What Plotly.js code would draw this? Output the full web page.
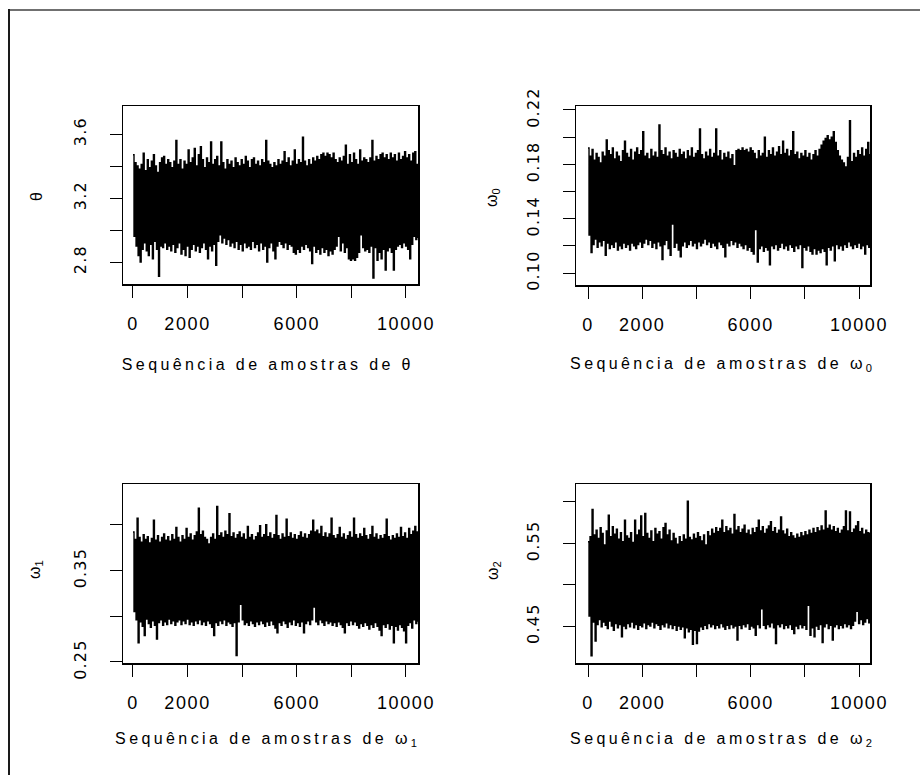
<!DOCTYPE html>
<html><head><meta charset="utf-8">
<script src="https://cdn.plot.ly/plotly-3.0.1.min.js"></script>
<style>
html,body{margin:0;padding:0;background:#fff}
#chart{width:920px;height:775px}
.xaxislayer-above text{letter-spacing:1.6px}
.yaxislayer-above text{letter-spacing:1.2px}
.annotation[data-index="1"] text,.annotation[data-index="3"] text,
.annotation[data-index="5"] text,.annotation[data-index="7"] text{letter-spacing:3.4px}
</style></head><body><div id="chart"></div>
<script>
// MCMC samples (thinned): alternating column maxima / minima
const theta = [
3.47,2.96, 3.42,2.90, 3.40,2.84, 3.38,2.80, 3.41,2.88, 3.48,2.92, 3.37,2.87, 3.44,2.84, 3.39,2.91, 3.43,2.82,
3.47,2.93, 3.40,2.88, 3.36,2.71, 3.42,2.90, 3.45,2.89, 3.46,2.92, 3.41,2.88, 3.44,2.90, 3.42,2.87, 3.39,2.91,
3.43,2.86, 3.56,2.89, 3.41,2.92, 3.44,2.85, 3.38,2.88, 3.43,2.84, 3.41,2.90, 3.50,2.83, 3.42,2.88, 3.45,2.91,
3.51,2.87, 3.40,2.90, 3.47,2.86, 3.52,2.89, 3.44,2.92, 3.39,2.88, 3.45,2.82, 3.42,2.90, 3.55,2.87, 3.41,2.91,
3.44,2.78, 3.46,2.93, 3.40,2.97, 3.55,2.92, 3.42,2.95, 3.38,2.91, 3.44,2.94, 3.41,2.90, 3.43,2.92, 3.39,2.89,
3.45,2.93, 3.42,2.88, 3.40,2.91, 3.44,2.87, 3.41,2.92, 3.46,2.89, 3.43,2.90, 3.39,2.88, 3.44,2.93, 3.45,2.89,
3.41,2.91, 3.43,2.87, 3.40,2.92, 3.44,2.88, 3.42,2.90, 3.56,2.80, 3.43,2.89, 3.41,2.92, 3.39,2.87, 3.42,2.82,
3.40,2.90, 3.44,2.93, 3.41,2.91, 3.43,2.89, 3.49,2.92, 3.42,2.88, 3.45,2.91, 3.40,2.90, 3.43,2.86, 3.50,2.85,
3.41,2.88, 3.44,2.86, 3.42,2.90, 3.58,2.88, 3.43,2.91, 3.40,2.89, 3.44,2.87, 3.41,2.79, 3.45,2.90, 3.43,2.86,
3.46,2.88, 3.44,2.85, 3.47,2.89, 3.48,2.86, 3.46,2.88, 3.48,2.84, 3.47,2.87, 3.45,2.85, 3.48,2.88, 3.44,2.90,
3.42,2.96, 3.45,2.87, 3.43,2.92, 3.46,2.86, 3.53,2.89, 3.41,2.82, 3.47,2.81, 3.42,2.82, 3.48,2.81, 3.44,2.83,
3.41,2.86, 3.50,2.97, 3.43,2.89, 3.45,2.87, 3.44,2.88, 3.42,2.86, 3.45,2.90, 3.56,2.70, 3.43,2.89, 3.46,2.81,
3.44,2.86, 3.47,2.82, 3.48,2.88, 3.45,2.75, 3.47,2.87, 3.44,2.89, 3.48,2.86, 3.45,2.75, 3.47,2.88, 3.43,2.90,
3.48,2.91, 3.44,2.89, 3.46,2.92, 3.49,2.90, 3.45,2.88, 3.47,2.82, 3.43,2.91, 3.48,2.96, 3.49,2.94, 3.41,2.95
];
const omega0 = [
.192,.128, .186,.115, .191,.121, .183,.125, .188,.119, .185,.123, .181,.120, .189,.124, .186,.113, .198,.122,
.190,.118, .187,.121, .192,.119, .184,.123, .189,.117, .186,.120, .182,.118, .190,.122, .197,.119, .188,.121,
.185,.117, .191,.122, .183,.120, .189,.118, .192,.121, .187,.123, .190,.119, .204,.122, .186,.125, .188,.121,
.184,.124, .191,.119, .186,.122, .189,.118, .185,.123, .209,.120, .190,.110, .187,.121, .192,.124, .186,.118,
.189,.113, .184,.136, .190,.119, .188,.122, .185,.117, .191,.112, .187,.120, .189,.123, .184,.119, .190,.121,
.186,.124, .192,.120, .185,.122, .188,.118, .190,.123, .206,.120, .187,.122, .184,.125, .189,.121, .186,.123,
.191,.119, .185,.122, .188,.120, .206,.118, .186,.123, .190,.121, .183,.119, .188,.112, .185,.122, .189,.120,
.184,.124, .187,.121, .179,.123, .190,.119, .191,.122, .190,.120, .192,.118, .190,.121, .191,.117, .189,.119,
.192,.116, .190,.114, .188,.132, .184,.108, .190,.118, .186,.120, .188,.116, .200,.119, .185,.117, .190,.106,
.187,.120, .192,.118, .186,.121, .189,.117, .193,.119, .187,.122, .197,.118, .188,.120, .191,.117, .186,.121,
.190,.119, .204,.116, .187,.120, .189,.118, .184,.121, .188,.104, .186,.119, .190,.117, .185,.120, .188,.116,
.183,.114, .187,.118, .190,.114, .186,.117, .191,.115, .194,.118, .197,.116, .199,.106, .201,.119, .198,.117,
.200,.120, .204,.109, .196,.121, .190,.118, .186,.120, .183,.117, .181,.121, .178,.119, .185,.123, .212,.120,
.182,.118, .188,.121, .185,.119, .190,.122, .187,.118, .192,.120, .186,.114, .191,.121, .196,.119, .187,.126
];
const omega1 = [
.392,.305, .384,.296, .407,.271, .386,.294, .381,.289, .389,.279, .384,.297, .387,.292, .380,.288, .385,.295,
.405,.290, .383,.275, .388,.293, .381,.296, .386,.290, .390,.294, .383,.291, .387,.297, .382,.292, .389,.295,
.384,.290, .397,.294, .386,.296, .381,.291, .388,.295, .384,.292, .396,.297, .386,.291, .390,.294, .383,.290,
.388,.295, .392,.292, .418,.296, .389,.291, .393,.294, .386,.290, .384,.295, .379,.292, .386,.288, .390,.279,
.384,.293, .420,.290, .388,.295, .391,.292, .386,.296, .393,.290, .389,.294, .412,.292, .387,.289, .391,.293,
.385,.257, .389,.294, .392,.313, .386,.296, .390,.291, .384,.293, .398,.290, .386,.295, .389,.292, .383,.289,
.387,.294, .391,.291, .399,.295, .386,.292, .389,.289, .400,.294, .387,.290, .391,.295, .385,.291, .389,.287,
.410,.282, .388,.293, .384,.290, .390,.295, .386,.292, .406,.288, .387,.294, .391,.291, .385,.296, .389,.290,
.384,.293, .388,.289, .392,.294, .386,.282, .390,.292, .385,.295, .389,.291, .393,.296, .405,.310, .392,.294,
.394,.291, .390,.296, .398,.293, .387,.290, .391,.295, .386,.292, .390,.294, .407,.290, .388,.293, .385,.289,
.389,.294, .397,.291, .386,.288, .390,.282, .384,.293, .388,.290, .392,.295, .386,.291, .407,.294, .389,.290,
.385,.287, .390,.292, .387,.289, .396,.293, .388,.290, .384,.286, .389,.291, .398,.288, .386,.293, .390,.289,
.384,.285, .388,.279, .385,.291, .389,.288, .406,.292, .387,.286, .383,.290, .388,.271, .385,.289, .390,.285,
.386,.291, .397,.288, .387,.284, .391,.271, .385,.290, .396,.293, .389,.287, .393,.296, .398,.292, .392,.294
];
const omega2 = [
.552,.462, .558,.414, .591,.455, .560,.432, .566,.452, .556,.458, .569,.449, .562,.455, .548,.451, .565,.447,
.584,.456, .558,.450, .570,.445, .561,.453, .567,.448, .555,.452, .563,.437, .552,.450, .578,.447, .559,.453,
.556,.449, .563,.455, .551,.448, .578,.452, .560,.446, .566,.451, .583,.449, .558,.454, .586,.447, .562,.452,
.556,.450, .565,.455, .552,.448, .568,.453, .561,.451, .564,.446, .555,.452, .569,.449, .574,.454, .560,.448,
.566,.452, .553,.447, .562,.451, .556,.445, .549,.450, .558,.446, .552,.449, .560,.436, .555,.448, .601,.443,
.557,.446, .554,.428, .561,.445, .556,.429, .563,.444, .558,.449, .553,.446, .560,.451, .548,.447, .564,.453,
.559,.449, .567,.452, .562,.447, .569,.451, .564,.448, .568,.453, .578,.449, .563,.446, .570,.451, .565,.447,
.568,.452, .561,.448, .585,.450, .566,.433, .570,.451, .563,.447, .567,.452, .572,.449, .562,.453, .566,.446,
.560,.450, .568,.448, .563,.439, .569,.452, .578,.448, .565,.471, .570,.451, .562,.447, .567,.452, .571,.449,
.576,.454, .564,.448, .569,.429, .562,.452, .566,.449, .582,.453, .565,.447, .561,.451, .567,.448, .558,.452,
.563,.446, .559,.441, .556,.450, .561,.447, .557,.452, .563,.448, .559,.451, .564,.446, .560,.475, .566,.439,
.562,.448, .568,.437, .563,.450, .569,.446, .565,.452, .571,.430, .566,.449, .589,.453, .568,.447, .572,.451,
.566,.433, .570,.449, .564,.452, .568,.447, .562,.451, .566,.448, .570,.453, .589,.449, .565,.452, .588,.447,
.563,.451, .567,.456, .571,.468, .576,.453, .564,.458, .568,.452, .561,.455, .566,.459, .563,.454, .562,.457
];
const iterStep = 37.4; // iterations represented by each stored sample

const xTickVals = [0, 2000, 4000, 6000, 8000, 10000];
const xTickText = ["0", "2000", "", "6000", "", "10000"];
const thetaTickVals = [2.8, 3.0, 3.2, 3.4, 3.6];
const thetaTickText = ["2.8", "", "3.2", "", "3.6"];
const omega0TickVals = [0.10, 0.12, 0.14, 0.16, 0.18, 0.20, 0.22];
const omega0TickText = ["0.10", "", "0.14", "", "0.18", "", "0.22"];
const omega1TickVals = [0.25, 0.30, 0.35, 0.40];
const omega1TickText = ["0.25", "", "0.35", ""];
const omega2TickVals = [0.45, 0.50, 0.55, 0.60];
const omega2TickText = ["0.45", "", "0.55", ""];

const yTitles = ["θ", "ω<sub>0</sub>", "ω<sub>1</sub>", "ω<sub>2</sub>"];
const xTitles = ["Sequência de amostras de θ", "Sequência de amostras de ω<sub>0</sub>",
                 "Sequência de amostras de ω<sub>1</sub>", "Sequência de amostras de ω<sub>2</sub>"];

const W = 920, H = 775;
const FONT = "Liberation Sans, Arial, sans-serif";
const YFONT = "DejaVu Sans, sans-serif";

const panels = [
  {y: theta,  tv: thetaTickVals,  tt: thetaTickText,  xr: [-366, 10440], yr: [2.6625, 3.775], xd: [123, 418], yd: [106, 284], yl: [37, 197],  xl: [268, 364]},
  {y: omega0, tv: omega0TickVals, tt: omega0TickText, xr: [-443, 10406], yr: [0.0912, 0.2229], xd: [576, 870], yd: [106, 285], yl: [493, 197], xl: [723, 364]},
  {y: omega1, tv: omega1TickVals, tt: omega1TickText, xr: [-366, 10440], yr: [0.2489, 0.4445], xd: [123, 418], yd: [484, 663], yl: [35, 570],  xl: [268, 739]},
  {y: omega2, tv: omega2TickVals, tt: omega2TickText, xr: [-443, 10406], yr: [0.4054, 0.6217], xd: [576, 870], yd: [484, 663], yl: [493, 570], xl: [723, 739]}
];

const data = [];
const layout = {
  width: W, height: H,
  margin: {l: 0, r: 0, t: 0, b: 0},
  paper_bgcolor: "#fff", plot_bgcolor: "#fff",
  showlegend: false,
  font: {family: FONT, color: "#000"},
  annotations: [],
  shapes: [
    {type: "line", xref: "paper", yref: "paper", x0: 8 / W, x1: 1, y0: 1 - 10 / H, y1: 1 - 10 / H, line: {color: "#707070", width: 2}},
    {type: "line", xref: "paper", yref: "paper", x0: 9 / W, x1: 9 / W, y0: 0, y1: 1 - 9 / H, line: {color: "#1a1a1a", width: 2}}
  ]
};

panels.forEach((p, i) => {
  const s = i === 0 ? "" : String(i + 1);
  const xs = p.y.map((_, k) => k * iterStep);
  data.push({
    type: "scatter", mode: "lines", x: xs, y: p.y,
    xaxis: "x" + s, yaxis: "y" + s,
    line: {color: "#000", width: 1.4, shape: "hv", simplify: false},
    hoverinfo: "skip"
  });
  layout["xaxis" + s] = {
    domain: [p.xd[0] / W, p.xd[1] / W], range: p.xr, anchor: "y" + s,
    tickmode: "array", tickvals: xTickVals, ticktext: xTickText,
    ticks: "outside", ticklen: 12, tickwidth: 1, tickcolor: "#000",
    showline: true, mirror: true, linecolor: "#000", linewidth: 1.5,
    showgrid: false, zeroline: false, ticklabelstandoff: 11,
    tickfont: {family: FONT, size: 18, color: "#000"}
  };
  layout["yaxis" + s] = {
    domain: [1 - p.yd[1] / H, 1 - p.yd[0] / H], range: p.yr, anchor: "x" + s,
    tickmode: "array", tickvals: p.tv, ticktext: p.tt, tickangle: -90,
    ticks: "outside", ticklen: 12, tickwidth: 1, tickcolor: "#000",
    showline: true, mirror: true, linecolor: "#000", linewidth: 1.5,
    showgrid: false, zeroline: false, ticklabelstandoff: 17,
    tickfont: {family: YFONT, size: 16, color: "#000"}
  };
  layout.annotations.push({
    xref: "paper", yref: "paper", x: p.yl[0] / W, y: 1 - p.yl[1] / H,
    xanchor: "center", yanchor: "middle", showarrow: false, textangle: -90,
    text: yTitles[i], font: {family: FONT, size: 16, color: "#000"}
  });
  layout.annotations.push({
    xref: "paper", yref: "paper", x: p.xl[0] / W, y: 1 - p.xl[1] / H,
    xanchor: "center", yanchor: "middle", showarrow: false,
    text: xTitles[i], font: {family: FONT, size: 16, color: "#000"}
  });
});

Plotly.newPlot("chart", data, layout, {staticPlot: true, displayModeBar: false});
</script></body></html>
